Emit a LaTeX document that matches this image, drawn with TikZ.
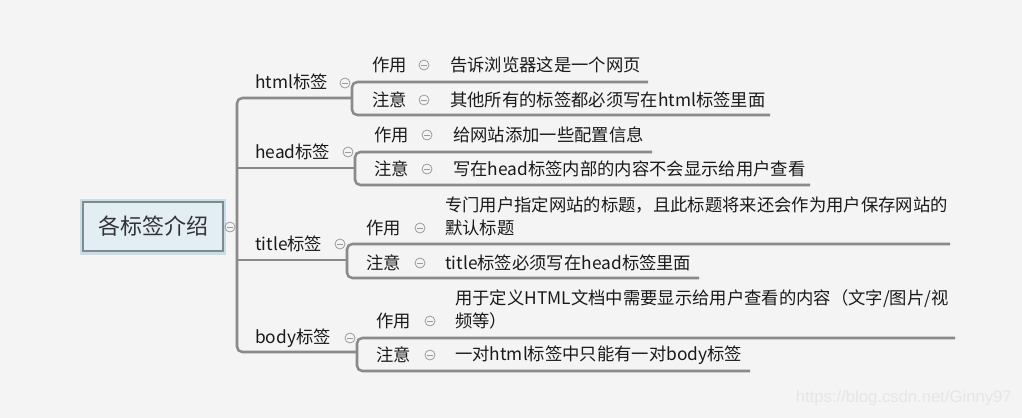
\documentclass[tikz,border=0pt]{standalone}
\usepackage{fontspec}
\setmainfont{Noto Sans CJK SC}
\newfontfamily\wmfont{Liberation Sans}
\definecolor{bgc}{HTML}{F4F4F4}
\definecolor{linec}{HTML}{8A8A8A}
\definecolor{txtc}{HTML}{1A1A1A}
\definecolor{rootfill}{HTML}{E3EEF4}
\definecolor{rootdraw}{HTML}{7E8A8E}
\definecolor{rootglow}{HTML}{C9DDE8}
\definecolor{minusc}{HTML}{9A9A9A}
\definecolor{wmc}{HTML}{E6E6E6}
\tikzset{
  conn/.style={draw=linec, line width=1.9pt, rounded corners=4pt},
  lbl/.style={anchor=west, inner sep=0pt, text=txtc, font=\fontsize{13}{17.25}\selectfont},
  multi/.style={lbl, align=left},
  rootbox/.style={draw=rootdraw, line width=1.6pt, fill=rootfill, minimum width=105pt, minimum height=37pt, inner sep=0pt, text=black!80, font=\fontsize{16.5}{20}\selectfont,
     preaction={draw=rootglow, line width=5pt, rounded corners=3pt}},
  collapse/.style={circle, draw=minusc, fill=bgc, line width=0.6pt, minimum size=7.5pt, inner sep=0pt,
     path picture={\draw[minusc, line width=0.6pt] ([xshift=1.8pt]path picture bounding box.west) -- ([xshift=-1.8pt]path picture bounding box.east);}},
}
\begin{document}
\begin{tikzpicture}[x=0.75pt,y=-0.75pt]
\fill[bgc] (0,0) rectangle (1022,418);
\useasboundingbox (0,0) rectangle (1022,418);

% root
\node[rootbox] (root) at (153,226.5) {各标签介绍};
\node[collapse] (rc) at (230,227) {};

% trunk junction coordinates
\coordinate (hb) at (352,98);
\coordinate (db) at (355,168);
\coordinate (tb) at (347,260);
\coordinate (bb) at (357,352);
\coordinate (tx) at (237,227);

% trunk
\draw[conn] (hb) -- (hb -| tx) -- (bb -| tx) -- (bb);
\draw[conn, rounded corners=0pt] (db -| tx) -- (db);
\draw[conn, rounded corners=0pt] (tb -| tx) -- (tb);

% ===== html =====
\node[lbl] (html) at (255,82) {html标签};
\node[collapse] (htmlc) at (345,83) {};
\node[lbl] (h1k) at (372,65) {作用};
\node[collapse] (h1c) at (424,65) {};
\node[lbl] (h1t) at (450,65) {告诉浏览器这是一个网页};
\node[lbl] (h2k) at (372,100) {注意};
\node[collapse] (h2c) at (424,100) {};
\node[lbl] (h2t) at (450,100) {其他所有的标签都必须写在html标签里面};
\coordinate (h1e) at (648,82);
\coordinate (h2e) at (770,115);
\draw[conn] (h1e) -- (h1e -| hb) -- (h2e -| hb) -- (h2e);

% ===== head =====
\node[lbl] (head) at (255,152) {head标签};
\node[collapse] (headc) at (348,152) {};
\node[lbl] (d1k) at (374,135) {作用};
\node[collapse] (d1c) at (427,135) {};
\node[lbl] (d1t) at (453,135) {给网站添加一些配置信息};
\node[lbl] (d2k) at (374,169) {注意};
\node[collapse] (d2c) at (427,169) {};
\node[lbl] (d2t) at (453,169) {写在head标签内部的内容不会显示给用户查看};
\coordinate (d1e) at (652,152);
\coordinate (d2e) at (810,185);
\draw[conn] (d1e) -- (d1e -| db) -- (d2e -| db) -- (d2e);

% ===== title =====
\node[lbl] (title) at (255,244) {title标签};
\node[collapse] (titlec) at (340,244) {};
\node[lbl] (t1k) at (366,228) {作用};
\node[collapse] (t1c) at (420,228) {};
\node[multi] (t1t) at (445,216.5) {专门用户指定网站的标题，且此标题将来还会作为用户保存网站的\\默认标题};
\node[lbl] (t2k) at (366,263) {注意};
\node[collapse] (t2c) at (420,263) {};
\node[lbl] (t2t) at (445,263) {title标签必须写在head标签里面};
\coordinate (t1e) at (950,244);
\coordinate (t2e) at (699,278);
\draw[conn] (t1e) -- (t1e -| tb) -- (t2e -| tb) -- (t2e);

% ===== body =====
\node[lbl] (body) at (255,338) {body标签};
\node[collapse] (bodyc) at (350,338) {};
\node[lbl] (b1k) at (376,321) {作用};
\node[collapse] (b1c) at (430,321) {};
\node[multi] (b1t) at (455,309.5) {用于定义HTML文档中需要显示给用户查看的内容（文字/图片/视\\频等）};
\node[lbl] (b2k) at (376,355) {注意};
\node[collapse] (b2c) at (430,355) {};
\node[lbl] (b2t) at (455,355) {一对html标签中只能有一对body标签};
\coordinate (b1e) at (955,338);
\coordinate (b2e) at (750,371);
\draw[conn] (b1e) -- (b1e -| bb) -- (b2e -| bb) -- (b2e);

% watermark
\node[anchor=east, inner sep=0pt, text=wmc, font=\wmfont\fontsize{12.5}{14}\selectfont] (wm) at (1012,398) {https://blog.csdn.net/Ginny97};
\end{tikzpicture}
\end{document}
